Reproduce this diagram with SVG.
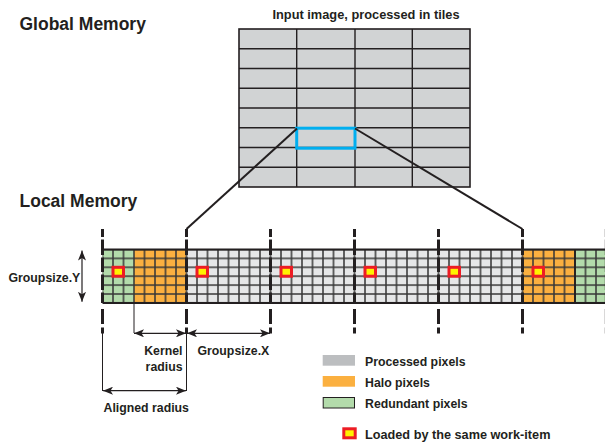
<svg xmlns="http://www.w3.org/2000/svg" xmlns:xlink="http://www.w3.org/1999/xlink" width="605" height="442" viewBox="0 0 605 442">
<style>
text{font-family:"Liberation Sans",Arial,sans-serif;font-weight:bold;fill:#231f20}
.title{font-size:17.5px}
.lbl{font-size:12.3px}
.thin{stroke:#231f20;stroke-width:1;fill:none}
.arr{stroke:#231f20;stroke-width:1.2;fill:none;marker-start:url(#ah);marker-end:url(#ah)}
.conn{stroke:#231f20;stroke-width:2;fill:none}
.mk{fill:#fff200;stroke:#ed1c24;stroke-width:3}
</style>
<defs>
<marker id="ah" viewBox="0 0 10 8" refX="10" refY="4" markerWidth="10" markerHeight="8" markerUnits="userSpaceOnUse" orient="auto-start-reverse">
<path d="M0,0 L10,4 L0,8 L2.5,4 z" fill="#231f20"/>
</marker>
<pattern id="cells" patternUnits="userSpaceOnUse" x="102.5" y="249.5" width="10.5" height="8.9">
<path d="M0,0V8.9 M10.5,0V8.9 M0,0H10.5 M0,8.9H10.5" stroke="#383838" stroke-width="1.5" fill="none"/>
</pattern>
<path id="dash" d="M0,229V237 M0,239.5V255 M0,257.5V272 M0,274.5V290 M0,292.5V303 M0,309V324 M0,327.5V333.5" stroke="#231f20" stroke-width="3" fill="none"/>
</defs>

<g id="global-title"><text class="title" x="19.5" y="30">Global Memory</text></g>
<g id="local-title"><text class="title" x="19.5" y="207">Local Memory</text></g>

<g id="input-image">
<text class="lbl" x="366" y="18.5" text-anchor="middle" style="font-size:12.8px">Input image, processed in tiles</text>
<rect x="239" y="29" width="231" height="158" fill="#d1d3d4" stroke="#231f20" stroke-width="1.6"/>
<path d="M296.7,29V187 M355,29V187 M412.3,29V187 M239,48.75H470 M239,68.5H470 M239,88.25H470 M239,108H470 M239,127.75H470 M239,147.5H470 M239,167.25H470" stroke="#231f20" stroke-width="1.4" fill="none"/>
</g>
<g id="tile"><rect x="296.7" y="128.2" width="58.3" height="20" fill="none" stroke="#00aeef" stroke-width="3"/></g>

<g id="strip">
<rect id="green-left" x="102.5" y="249.5" width="31.5" height="53.4" fill="#b3dbab"/>
<rect id="halo-left" x="134" y="249.5" width="52.5" height="53.4" fill="#fbb040"/>
<rect id="processed" x="186.5" y="249.5" width="336" height="53.4" fill="#e6e7e8"/>
<rect id="halo-right" x="522.5" y="249.5" width="52.5" height="53.4" fill="#fbb040"/>
<rect id="green-right" x="575" y="249.5" width="32" height="53.4" fill="#b3dbab"/>
<rect x="102.5" y="249.5" width="505" height="53.4" fill="url(#cells)"/>
<path d="M102.5,249.5H607 M102.5,302.9H607" stroke="#231f20" stroke-width="2" fill="none"/>
<path d="M575,249.5V302.9" stroke="#231f20" stroke-width="1.8" fill="none"/>
</g>

<g id="work-items">
<rect class="mk" x="113" y="267.3" width="10.5" height="8.9"/>
<rect class="mk" x="197" y="267.3" width="10.5" height="8.9"/>
<rect class="mk" x="281" y="267.3" width="10.5" height="8.9"/>
<rect class="mk" x="365" y="267.3" width="10.5" height="8.9"/>
<rect class="mk" x="449" y="267.3" width="10.5" height="8.9"/>
<rect class="mk" x="533" y="267.3" width="10.5" height="8.9"/>
</g>

<g id="connectors">
<use xlink:href="#dash" x="102.5"/>
<use xlink:href="#dash" x="186.5"/>
<use xlink:href="#dash" x="270.5"/>
<use xlink:href="#dash" x="354.5"/>
<use xlink:href="#dash" x="438.5"/>
<use xlink:href="#dash" x="522.5"/>
<use xlink:href="#dash" x="606" opacity="0.35"/>
<path class="conn" d="M297,128.5 L186.5,229"/>
<path class="conn" d="M355,128.5 L522.5,229"/>
<path class="thin" d="M134,303V333 M102.5,333V391 M186.5,333V391"/>
<path class="arr" d="M82,250.5V301.8"/>
<path class="arr" d="M134,333.3H186"/>
<path class="arr" d="M187,333.3H270"/>
<path class="arr" d="M103,390.7H186"/>
</g>

<g id="labels">
<text class="lbl" x="8.5" y="281.5">Groupsize.Y</text>
<text class="lbl" x="182.5" y="355" text-anchor="end">Kernel</text>
<text class="lbl" x="182.5" y="371" text-anchor="end">radius</text>
<text class="lbl" x="197.5" y="355">Groupsize.X</text>
<text class="lbl" x="103.5" y="412">Aligned radius</text>
</g>

<g id="legend">
<rect x="322.7" y="355" width="32.3" height="10.7" fill="#bcbec0"/>
<text class="lbl" x="365" y="365.5">Processed pixels</text>
<rect x="322.7" y="376" width="32.3" height="10.7" fill="#fbb040"/>
<text class="lbl" x="365" y="386.5">Halo pixels</text>
<rect x="323.2" y="397.5" width="31.3" height="10.5" fill="#b3dbab" stroke="#231f20" stroke-width="1"/>
<text class="lbl" x="365" y="408">Redundant pixels</text>
<rect class="mk" x="343.8" y="428.8" width="11.4" height="9"/>
<text class="lbl" x="365" y="439" style="font-size:12.7px">Loaded by the same work-item</text>
</g>
</svg>
